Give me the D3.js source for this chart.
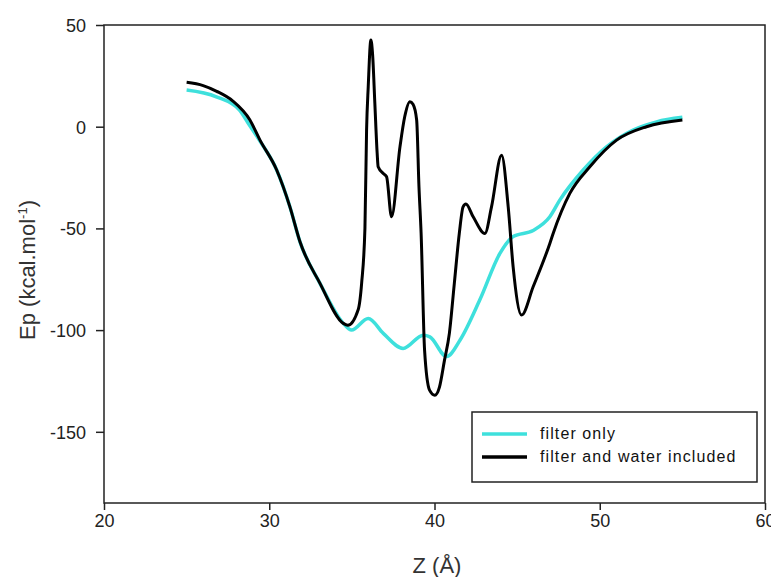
<!DOCTYPE html>
<html>
<head>
<meta charset="utf-8">
<script src="https://cdnjs.cloudflare.com/ajax/libs/d3/7.8.5/d3.min.js"></script>
<style>
  body { margin: 0; background: #fff; }
  svg { font-family: "Liberation Sans", Arial, sans-serif; }
</style>
</head>
<body>
<svg id="chart" width="771" height="577"></svg>
<script>
// Z positions (Å) and Ep values (kcal/mol)
const filterZ = [25, 26.8, 28.2, 28.8, 29.4, 30.45, 31.25, 31.86, 33.07, 34.48, 34.98, 35.99, 36.9, 38.1, 39.32, 39.72, 40.73, 41.54, 42.75, 43.96, 44.76, 45.97, 46.98, 47.59, 49.0, 50.41, 52.02, 53.44, 55];
const filterEp = [18, 14.7, 8.2, 0.8, -6.6, -21.3, -39.4, -56.6, -77, -96.7, -100, -94.3, -101.6, -109, -102.5, -103.3, -113, -105, -85, -62.3, -54, -51, -44.3, -36, -21.3, -9.9, -1.6, 2.4, 4.6];

const waterZ = [25, 26, 26.82, 27.8, 28.83, 29.44, 30.45, 31.25, 31.86, 33.07, 34.48, 34.76, 35.38, 35.59, 35.79, 35.89, 35.99, 36.15, 36.25, 36.39, 36.53, 36.59, 36.9, 37.1, 37.4, 37.91, 38.2, 38.51, 38.7, 38.92, 39.06, 39.19, 39.4, 39.7, 40.02, 40.3, 40.6, 40.9, 41.2, 41.5, 41.73, 41.9, 42.34, 43.05, 43.45, 44.06, 44.46, 44.76, 45.27, 45.97, 46.98, 47.18, 48.19, 49.4, 51.02, 52.83, 55];
const waterEp = [21.8, 20.2, 17.4, 12.6, 3.3, -6.6, -21.3, -39.4, -56.6, -77, -96.7, -97.6, -90, -77, -50, -1.6, 19.7, 42.6, 36, 11.5, -13, -19.7, -23, -24.6, -44.3, -9.9, 5, 12.3, 11, 3.3, -29.5, -52.5, -110, -129.5, -132, -128, -115, -101.6, -77, -52.5, -39.4, -38, -44.3, -52.5, -39.4, -14, -39.4, -69, -92.6, -78.7, -57.4, -52.5, -32.8, -19.7, -6.6, 0, 3.3];

const xTicks = [20, 30, 40, 50, 60];
const yTicks = [50, 0, -50, -100, -150];
const legendLabels = ["filter only", "filter and water included"];
const colors = ["#3ee0dc", "#000000"];

const svg = d3.select("#chart");
const mLeft = 104, mRight = 765, mTop = 25, mBottom = 503;

const x = d3.scaleLinear().domain([20, 60]).range([mLeft, mRight]);
const y = d3.scaleLinear().domain([-185, 50]).range([mBottom, mTop]);

// frame
svg.append("rect")
  .attr("x", mLeft).attr("y", mTop)
  .attr("width", mRight - mLeft).attr("height", mBottom - mTop)
  .attr("fill", "none").attr("stroke", "#222").attr("stroke-width", 1.5);

const xAxis = svg.append("g")
  .attr("transform", `translate(0,${mBottom})`)
  .call(d3.axisBottom(x).tickValues(xTicks).tickSize(7).tickPadding(4).tickFormat(d => String(d)));
const yAxis = svg.append("g")
  .attr("transform", `translate(${mLeft},0)`)
  .call(d3.axisLeft(y).tickValues(yTicks).tickSize(8).tickPadding(10).tickFormat(d => String(d)));

[xAxis, yAxis].forEach(g => {
  g.select(".domain").remove();
  g.selectAll("line").attr("stroke", "#222").attr("stroke-width", 1.5);
  g.selectAll("text").attr("font-size", 18).attr("fill", "#222")
    .attr("font-family", "'Liberation Sans', Arial, sans-serif");
});
yAxis.selectAll("text").attr("dy", "0.36em");

// axis titles
svg.append("text")
  .attr("x", 437).attr("y", 573)
  .attr("text-anchor", "middle").attr("font-size", 22).attr("fill", "#333")
  .text("Z (Å)");

const yl = svg.append("text")
  .attr("transform", "translate(35,270) rotate(-90)")
  .attr("text-anchor", "middle").attr("font-size", 22).attr("fill", "#333");
yl.append("tspan").text("Ep (kcal.mol");
yl.append("tspan").attr("dy", -8).attr("font-size", 13).text("-1");
yl.append("tspan").attr("dy", 8).text(")");

// lines
const line = d3.line().x(d => x(d[0])).y(d => y(d[1])).curve(d3.curveMonotoneX);
const series = [
  d3.zip(filterZ, filterEp),
  d3.zip(waterZ, waterEp)
];
series.forEach((s, i) => {
  svg.append("path")
    .datum(s)
    .attr("fill", "none")
    .attr("stroke", colors[i])
    .attr("stroke-width", i === 0 ? 3.5 : 3)
    .attr("stroke-linejoin", "round")
    .attr("d", line);
});

// legend
const lg = svg.append("g");
lg.append("rect")
  .attr("x", 472).attr("y", 412).attr("width", 285).attr("height", 70)
  .attr("fill", "#fff").attr("stroke", "#222").attr("stroke-width", 1.5);
legendLabels.forEach((t, i) => {
  const yy = 434 + i * 23;
  lg.append("line")
    .attr("x1", 482).attr("x2", 527).attr("y1", yy).attr("y2", yy)
    .attr("stroke", colors[i]).attr("stroke-width", 3.5);
  lg.append("text")
    .attr("x", 540).attr("y", yy + 5)
    .attr("font-size", 16).attr("letter-spacing", 1.1).attr("fill", "#111")
    .text(t);
});
</script>
</body>
</html>
